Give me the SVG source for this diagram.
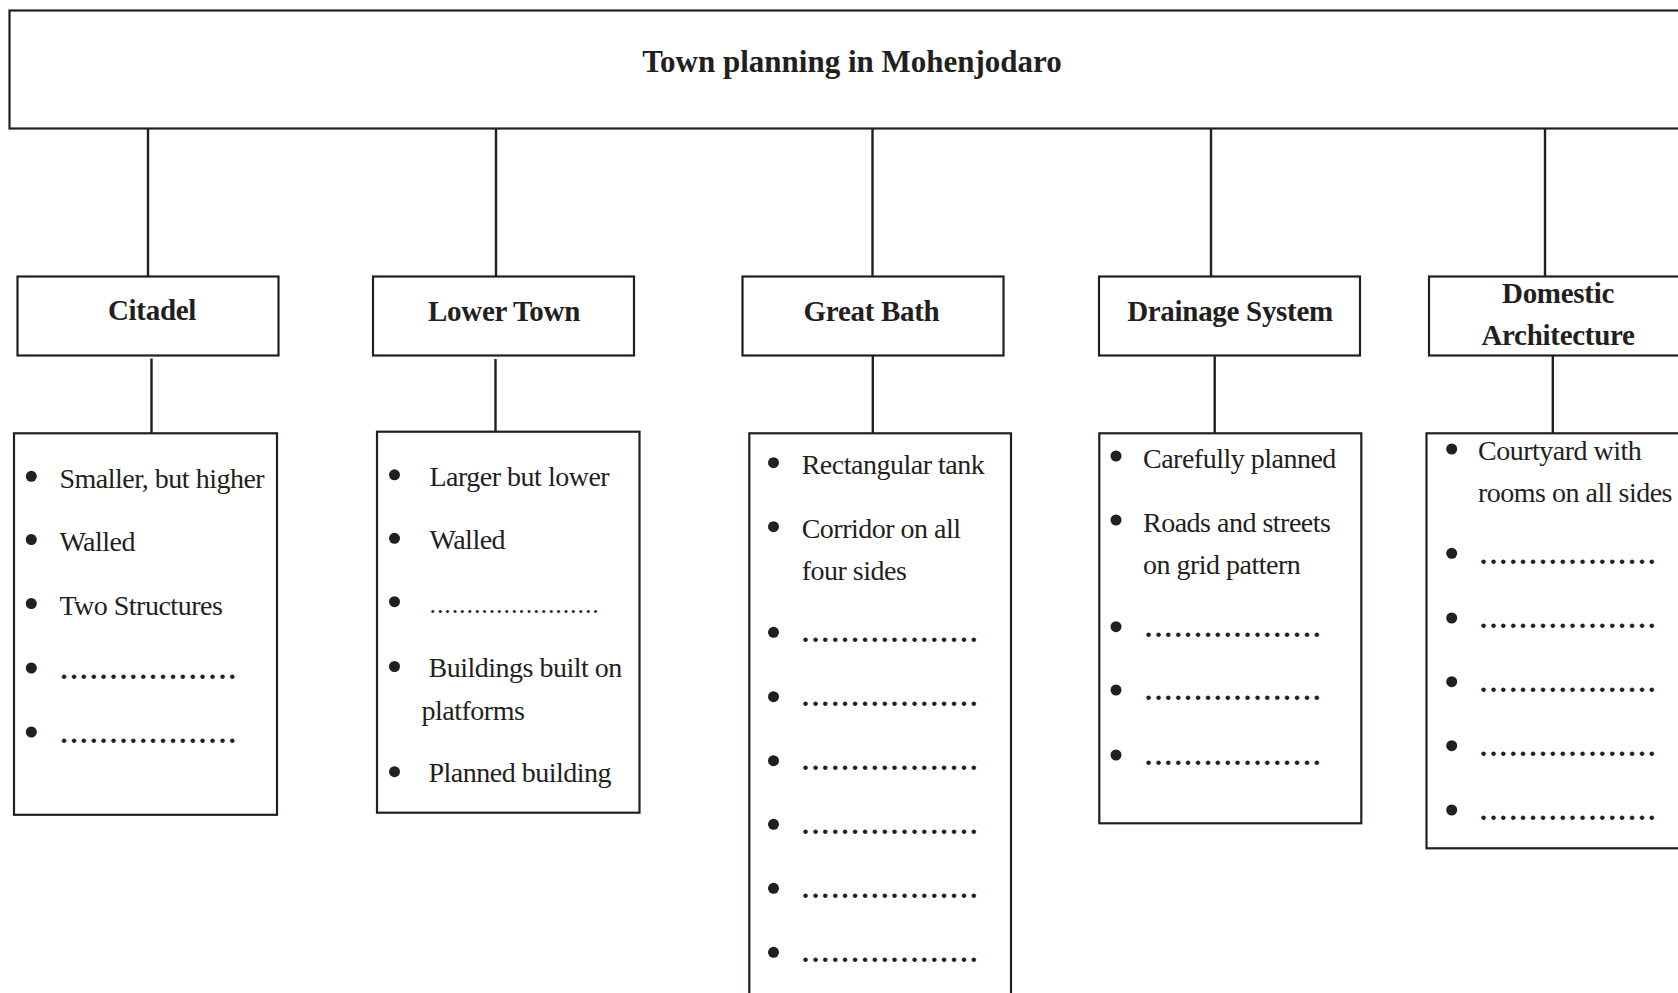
<svg xmlns="http://www.w3.org/2000/svg" width="1678" height="993" viewBox="0 0 1678 993">
<style>
.box{fill:#fff;stroke:#231f20;stroke-width:2.2}
.con line{stroke:#231f20;stroke-width:2.4}
.title{font-family:"Liberation Serif","Times New Roman",serif;font-weight:bold;font-size:31px;fill:#231f20;text-anchor:middle}
.cat{font-family:"Liberation Serif","Times New Roman",serif;font-weight:bold;font-size:29px;fill:#231f20;text-anchor:middle;letter-spacing:-0.3px}
.item{font-family:"Liberation Serif","Times New Roman",serif;font-size:28px;fill:#231f20;letter-spacing:-0.5px}
.dots{font-family:"Liberation Serif","Times New Roman",serif;font-weight:bold;font-size:28px;fill:#231f20;letter-spacing:2.9px}
.dots2{font-family:"Liberation Serif","Times New Roman",serif;font-size:26px;fill:#231f20;letter-spacing:0.9px}
.b{fill:#231f20}
</style>
<rect width="1678" height="993" fill="#fff"/>

<g id="connectors" class="con">
<line x1="148" y1="128" x2="148" y2="277"/>
<line x1="496" y1="128" x2="496" y2="277"/>
<line x1="872.5" y1="128" x2="872.5" y2="277"/>
<line x1="1211" y1="128" x2="1211" y2="277"/>
<line x1="1545" y1="128" x2="1545" y2="277"/>
<line x1="151.5" y1="358.5" x2="151.5" y2="433"/>
<line x1="495.5" y1="359" x2="495.5" y2="433"/>
<line x1="872.8" y1="355" x2="872.8" y2="433"/>
<line x1="1214.7" y1="355" x2="1214.7" y2="433"/>
<line x1="1552.8" y1="354" x2="1552.8" y2="433"/>
</g>

<g id="root">
<rect class="box" x="9.5" y="10.5" width="1700" height="118"/>
<text class="title" x="852" y="72">Town planning in Mohenjodaro</text>
</g>

<g id="cat-citadel">
<rect class="box" x="17.5" y="276.5" width="261" height="79"/>
<text class="cat" x="152" y="320">Citadel</text>
</g>
<g id="cat-lowertown">
<rect class="box" x="373" y="276.5" width="261" height="79"/>
<text class="cat" x="504" y="321">Lower Town</text>
</g>
<g id="cat-greatbath">
<rect class="box" x="742.5" y="276.5" width="261" height="79"/>
<text class="cat" x="871.5" y="321">Great Bath</text>
</g>
<g id="cat-drainage">
<rect class="box" x="1099" y="276.5" width="261" height="79"/>
<text class="cat" x="1230" y="321">Drainage System</text>
</g>
<g id="cat-domestic">
<rect class="box" x="1429" y="276.5" width="261" height="79"/>
<text class="cat" x="1558" y="303">Domestic</text>
<text class="cat" x="1558" y="345">Architecture</text>
</g>

<g id="list-citadel">
<rect class="box" x="14" y="433.3" width="263" height="381.5"/>
<circle class="b" cx="31.3" cy="476.3" r="5.5"/>
<text class="item" x="59.4" y="488">Smaller, but higher</text>
<circle class="b" cx="31.3" cy="539.5" r="5.5"/>
<text class="item" x="59.4" y="551">Walled</text>
<circle class="b" cx="31.3" cy="603.5" r="5.5"/>
<text class="item" x="59.4" y="615">Two Structures</text>
<circle class="b" cx="31.3" cy="668" r="5.5"/>
<text class="dots" x="60.5" y="679">..................</text>
<circle class="b" cx="31.3" cy="732" r="5.5"/>
<text class="dots" x="60.5" y="743">..................</text>
</g>

<g id="list-lowertown">
<rect class="box" x="377" y="431.7" width="262.5" height="381"/>
<circle class="b" cx="394.5" cy="474.8" r="5.5"/>
<text class="item" x="429.5" y="486">Larger but lower</text>
<circle class="b" cx="394.5" cy="538.3" r="5.5"/>
<text class="item" x="429.5" y="549.3">Walled</text>
<circle class="b" cx="394.5" cy="601.7" r="5.5"/>
<text class="dots2" x="429.5" y="612.7">.......................</text>
<circle class="b" cx="394.5" cy="666.5" r="5.5"/>
<text class="item" x="428.5" y="677.3">Buildings built on</text>
<text class="item" x="421.5" y="719.5">platforms</text>
<circle class="b" cx="394.5" cy="771.7" r="5.5"/>
<text class="item" x="428.5" y="781.7">Planned building</text>
</g>

<g id="list-greatbath">
<rect class="box" x="749.3" y="433.3" width="261.7" height="600"/>
<circle class="b" cx="773.5" cy="462.7" r="5.5"/>
<text class="item" x="801.7" y="474.3">Rectangular tank</text>
<circle class="b" cx="773.5" cy="526.7" r="5.5"/>
<text class="item" x="801.7" y="538.3">Corridor on all</text>
<text class="item" x="801.7" y="580">four sides</text>
<circle class="b" cx="773.5" cy="632.3" r="5.5"/>
<text class="dots" x="802" y="641.7">..................</text>
<circle class="b" cx="773.5" cy="696.7" r="5.5"/>
<text class="dots" x="802" y="706">..................</text>
<circle class="b" cx="773.5" cy="760.7" r="5.5"/>
<text class="dots" x="802" y="770">..................</text>
<circle class="b" cx="773.5" cy="824.3" r="5.5"/>
<text class="dots" x="802" y="834">..................</text>
<circle class="b" cx="773.5" cy="888.3" r="5.5"/>
<text class="dots" x="802" y="897.7">..................</text>
<circle class="b" cx="773.5" cy="952.3" r="5.5"/>
<text class="dots" x="802" y="961.7">..................</text>
</g>

<g id="list-drainage">
<rect class="box" x="1099.3" y="433.3" width="262" height="390"/>
<circle class="b" cx="1116" cy="456" r="5.5"/>
<text class="item" x="1143" y="468.3">Carefully planned</text>
<circle class="b" cx="1116" cy="520" r="5.5"/>
<text class="item" x="1143" y="532.3">Roads and streets</text>
<text class="item" x="1143" y="574.3">on grid pattern</text>
<circle class="b" cx="1116" cy="626.7" r="5.5"/>
<text class="dots" x="1145" y="636.7">..................</text>
<circle class="b" cx="1116" cy="690" r="5.5"/>
<text class="dots" x="1145" y="700">..................</text>
<circle class="b" cx="1116" cy="755" r="5.5"/>
<text class="dots" x="1145" y="765">..................</text>
</g>

<g id="list-domestic">
<rect class="box" x="1426.5" y="433.3" width="280" height="415"/>
<circle class="b" cx="1451.7" cy="449" r="5.5"/>
<text class="item" x="1478" y="460">Courtyard with</text>
<text class="item" x="1478" y="501.7">rooms on all sides</text>
<circle class="b" cx="1451.7" cy="553.3" r="5.5"/>
<text class="dots" x="1480" y="564">..................</text>
<circle class="b" cx="1451.7" cy="618" r="5.5"/>
<text class="dots" x="1480" y="628">..................</text>
<circle class="b" cx="1451.7" cy="681.7" r="5.5"/>
<text class="dots" x="1480" y="692">..................</text>
<circle class="b" cx="1451.7" cy="745.7" r="5.5"/>
<text class="dots" x="1480" y="756">..................</text>
<circle class="b" cx="1451.7" cy="810" r="5.5"/>
<text class="dots" x="1480" y="819.5">..................</text>
</g>
</svg>
